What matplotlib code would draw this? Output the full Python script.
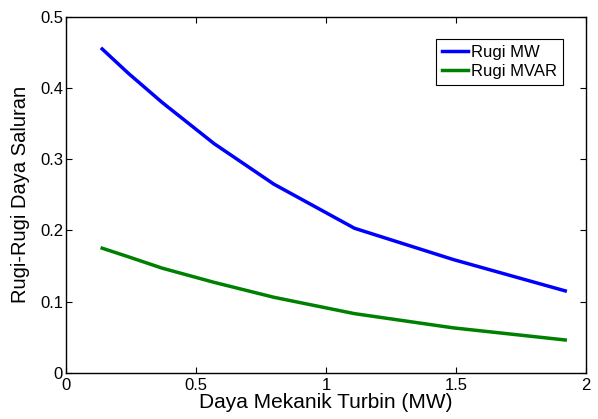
import matplotlib.pyplot as plt

# Data
daya_turbin = [0.14, 0.24, 0.37, 0.57, 0.80, 1.11, 1.49, 1.92]
rugi_mw = [0.455, 0.421, 0.380, 0.322, 0.265, 0.203, 0.159, 0.115]
rugi_mvar = [0.175, 0.163, 0.147, 0.127, 0.106, 0.083, 0.063, 0.046]

plt.rcParams['font.family'] = ['Liberation Sans', 'DejaVu Sans']

fig = plt.figure(figsize=(5.98, 4.19), dpi=100)
ax = fig.add_axes([0.110, 0.1105, 0.870, 0.849])

ax.plot(daya_turbin, rugi_mw, color=(0, 0, 1), lw=2.5, label='Rugi MW')
ax.plot(daya_turbin, rugi_mvar, color=(0, 0.5, 0), lw=2.5, label='Rugi MVAR')

ax.set_xlim(0, 2)
ax.set_ylim(0, 0.5)
ax.set_xticks([0, 0.5, 1, 1.5, 2])
ax.set_xticklabels(['0', '0.5', '1', '1.5', '2'])
ax.set_yticks([0, 0.1, 0.2, 0.3, 0.4, 0.5])
ax.set_yticklabels(['0', '0.1', '0.2', '0.3', '0.4', '0.5'])
ax.tick_params(direction='in', top=True, right=True, labelsize=12, length=4)
ax.tick_params(axis='x', pad=4)
ax.tick_params(axis='y', pad=2)
for s in ax.spines.values():
    s.set_linewidth(1.0)

ax.set_xlabel('Daya Mekanik Turbin (MW)', fontsize=15, labelpad=0)
ax.set_ylabel('Rugi-Rugi Daya Saluran', fontsize=14.5)
ax.yaxis.set_label_coords(-0.068, 0.5)

leg = ax.legend(loc='upper right', bbox_to_anchor=(0.956, 0.938), borderaxespad=0,
                fancybox=False, edgecolor='black', framealpha=1, fontsize=12,
                handlelength=1.55, handletextpad=0.2, labelspacing=0.25,
                borderpad=0.35)
leg.get_frame().set_linewidth(0.8)

fig.savefig('out.png', dpi=100)
